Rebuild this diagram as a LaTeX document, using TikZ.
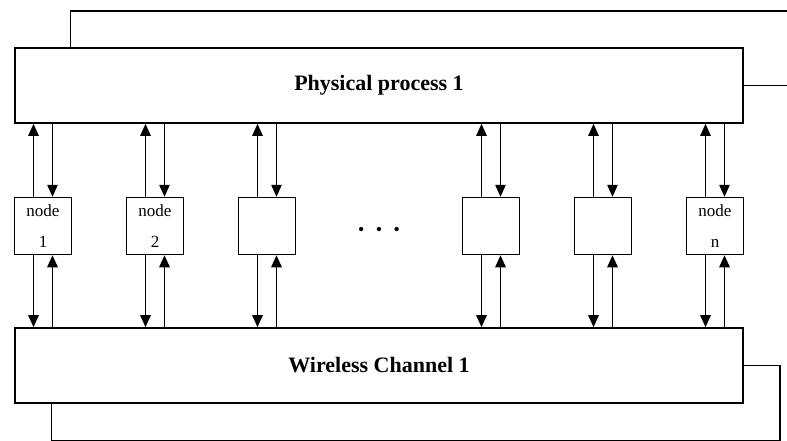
\documentclass[tikz,border=0pt]{standalone}
\usepackage{fontspec}
\setmainfont{Liberation Serif}
\usepackage{tikz}
\usetikzlibrary{arrows.meta,positioning}

\begin{document}
\begin{tikzpicture}[x=1pt,y=-1pt]
    \tikzset{
      proc/.style={draw, rectangle, line width=1.6pt, minimum width=728pt, minimum height=75pt, inner sep=0pt, font=\fontsize{22}{26}\selectfont\bfseries},
      unit/.style={draw, rectangle, line width=1.5pt, minimum width=57pt, minimum height=57pt, inner sep=0pt, align=center, font=\fontsize{17}{31}\selectfont, node distance=112pt},
      line/.style={draw, line width=1.2pt, -{Triangle[length=12pt,width=10.5pt]}},
      fb/.style={draw, line width=1.3pt}
    }
    \useasboundingbox (0,0) rectangle (787,440);
    \node [proc] (phys) at (379,85.5) {Physical process 1};
    \node [proc] (chan) at (379,365.5) {Wireless Channel 1};
    \node [unit] (n1) at (43,226) {node\\1};
    \node [unit, right of=n1] (n2) {node\\2};
    \node [unit, right of=n2] (n3) {};
    \node [right of=n3, node distance=112pt, yshift=-5pt, font=\fontsize{18}{18}\selectfont] (dots) {•\hspace{11.5pt}•\hspace{11.5pt}•};
    \node [unit, right of=dots, yshift=5pt] (n4) {};
    \node [unit, right of=n4] (n5) {};
    \node [unit, right of=n5] (n6) {node\\n};
    \coordinate (topend) at (787,11);
    \coordinate (physout) at (787,85.5);
    \coordinate (loopR) at (780,440.9);

    \foreach \n in {n1,n2,n3,n4,n5,n6} {
      \path [line] ([xshift=-9.5pt]\n.north) -- ([xshift=-9.5pt]\n.north |- phys.south);
      \path [line] ([xshift=9.5pt]\n.north |- phys.south) -- ([xshift=9.5pt]\n.north);
      \path [line] ([xshift=-9.5pt]\n.south) -- ([xshift=-9.5pt]\n.south |- chan.north);
      \path [line] ([xshift=9.5pt]\n.south |- chan.north) -- ([xshift=9.5pt]\n.south);
    }
    \path [fb] ([xshift=56pt]phys.north west) |- (topend);
    \path [fb] (phys.east) -- (physout);
    \path [fb] (chan.east) -| (loopR) -| ([xshift=37pt]chan.south west);
\end{tikzpicture}
\end{document}
